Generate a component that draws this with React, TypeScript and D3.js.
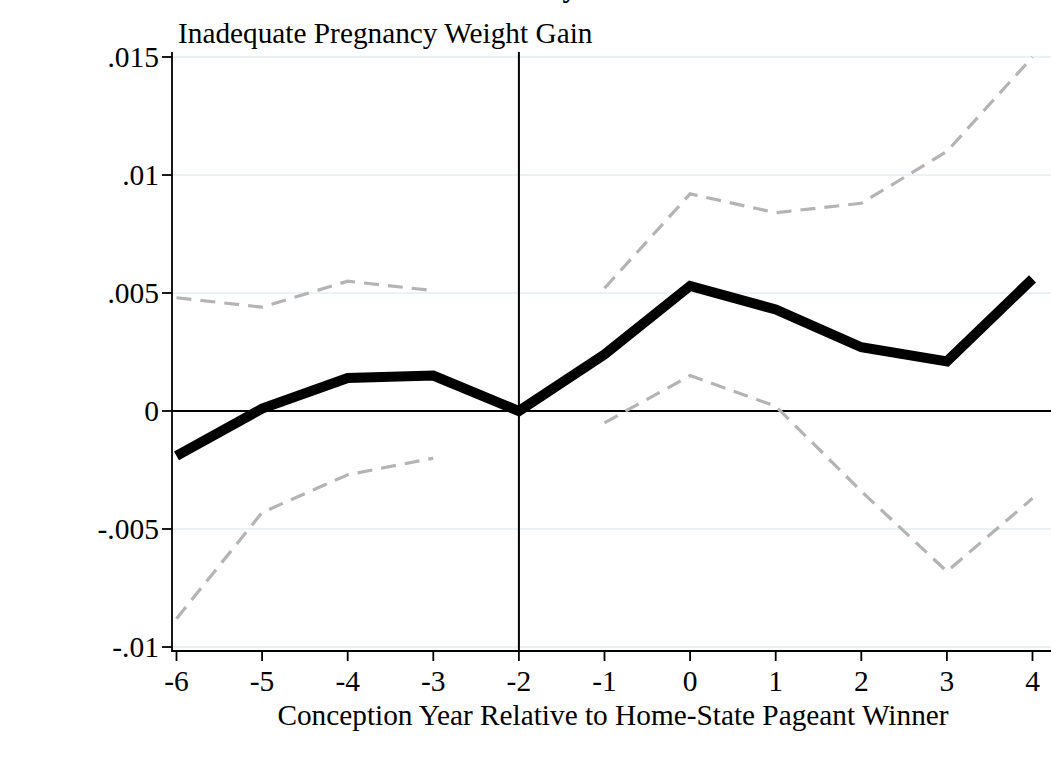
import * as d3 from 'd3';

// event-time coefficients
const years = [-6, -5, -4, -3, -2, -1, 0, 1, 2, 3, 4];
const coef = [-0.0019, 0.0001, 0.0014, 0.0015, 0, 0.0024, 0.0053, 0.0043, 0.0027, 0.0021, 0.0056];
const upper = [0.0048, 0.0044, 0.0055, 0.0051, null, 0.0052, 0.0092, 0.0084, 0.0088, 0.011, 0.015];
const lower = [-0.0088, -0.0043, -0.0027, -0.002, null, -0.0005, 0.0015, 0.0002, -0.0034, -0.0068, -0.0037];
const yTicks = [0.015, 0.01, 0.005, 0, -0.005, -0.01];
const yTickLabels = ['.015', '.01', '.005', '0', '-.005', '-.01'];

const W = 1051;
const H = 763;
const left = 172;
const top = 52;
const bottom = 651;
const font = '"Liberation Serif", "Times New Roman", serif';

export default function App() {
  const x = d3.scaleLinear().domain([-6, 4]).range([176.5, 1032.5]);
  const y = d3.scaleLinear().domain([-0.01, 0.015]).range([647, 57]);

  const solid = d3.line<number>()
    .x((_, i) => x(years[i]))
    .y(d => y(d));

  const band = d3.line<number | null>()
    .defined(d => d !== null)
    .x((_, i) => x(years[i]))
    .y(d => y(d as number));

  return (
    <svg width={W} height={H} style={{ position: 'absolute', left: 0, top: 0, background: '#fff' }}>
      {/* heading above the panel, cropped in the source */}
      <text x={577} y={-3} fontFamily={font} fontSize={29} fontWeight="bold" textAnchor="end" fill="#000">y</text>

      <text x={178} y={43} fontFamily={font} fontSize={29.3} fill="#000">Inadequate Pregnancy Weight Gain</text>

      {/* grid */}
      {yTicks.map(t => (
        <line key={'g' + t} x1={left} x2={W} y1={y(t)} y2={y(t)} stroke="#eaf2f3" strokeWidth={2} />
      ))}

      {/* reference lines */}
      <line x1={left} x2={W} y1={y(0)} y2={y(0)} stroke="#000" strokeWidth={1.8} />
      <line x1={x(-2)} x2={x(-2)} y1={top} y2={bottom} stroke="#000" strokeWidth={2} />

      {/* confidence bounds */}
      <path d={band(upper) ?? ''} fill="none" stroke="#b4b4b4" strokeWidth={3.2} strokeDasharray="15 9" />
      <path d={band(lower) ?? ''} fill="none" stroke="#b4b4b4" strokeWidth={3.2} strokeDasharray="15 9" />

      {/* point estimates */}
      <path d={solid(coef) ?? ''} fill="none" stroke="#000" strokeWidth={10} strokeLinejoin="miter" />

      {/* y axis */}
      <line x1={left} x2={left} y1={top} y2={bottom + 1} stroke="#000" strokeWidth={1.8} />
      {yTicks.map((t, i) => (
        <g key={'y' + t}>
          <line x1={left - 10} x2={left} y1={y(t)} y2={y(t)} stroke="#000" strokeWidth={1.8} />
          <text x={left - 13} y={y(t) + 10} textAnchor="end" fontFamily={font} fontSize={29.5} fill="#000">{yTickLabels[i]}</text>
        </g>
      ))}

      {/* x axis */}
      <line x1={left} x2={W} y1={bottom} y2={bottom} stroke="#000" strokeWidth={1.8} />
      {years.map(v => (
        <g key={'x' + v}>
          <line x1={x(v)} x2={x(v)} y1={bottom} y2={bottom + 10} stroke="#000" strokeWidth={1.8} />
          <text x={x(v)} y={bottom + 40} textAnchor="middle" fontFamily={font} fontSize={29.5} fill="#000">{v}</text>
        </g>
      ))}

      <text x={613} y={725} textAnchor="middle" fontFamily={font} fontSize={29.3} fill="#000">Conception Year Relative to Home-State Pageant Winner</text>
    </svg>
  );
}
